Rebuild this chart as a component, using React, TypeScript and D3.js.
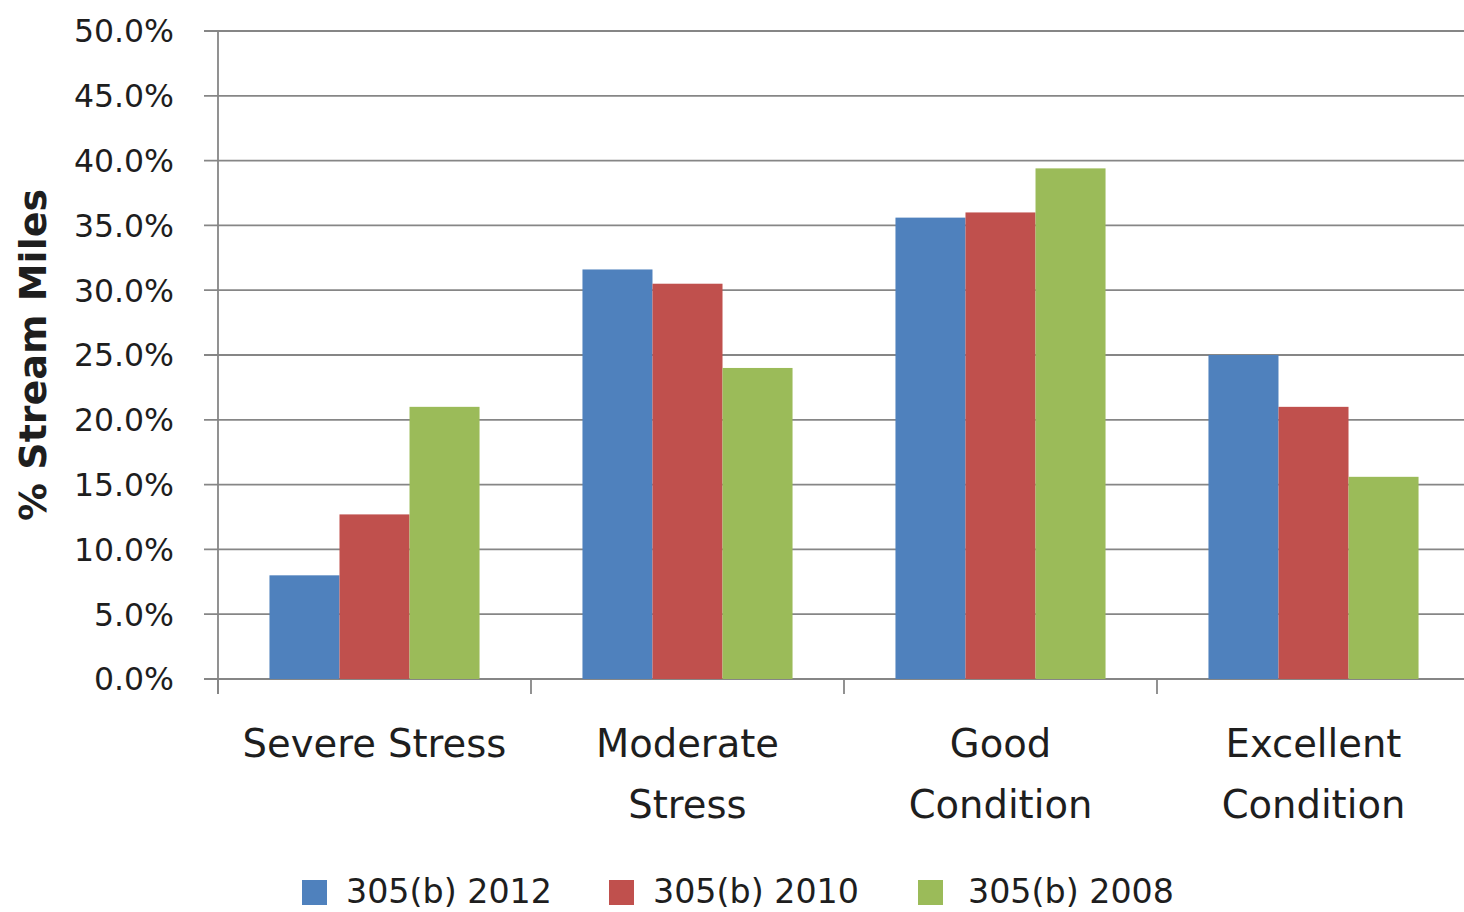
import React from "react";
import * as d3 from "d3";

const categories: string[][] = [["Severe Stress"], ["Moderate", "Stress"], ["Good", "Condition"], ["Excellent", "Condition"]];
const seriesNames = ["305(b) 2012", "305(b) 2010", "305(b) 2008"];
const colors = ["#4F81BD", "#C0504D", "#9BBB59"];
const values2012 = [8.0, 31.6, 35.6, 25.0];
const values2010 = [12.7, 30.5, 36.0, 21.0];
const values2008 = [21.0, 24.0, 39.4, 15.6];
const yTicks = [0, 5, 10, 15, 20, 25, 30, 35, 40, 45, 50];

const W = 1464;
const H = 912;
const left = 218;
const right = 1470;
const top = 31;
const bottom = 679;
const font = "'DejaVu Sans', sans-serif";
const textColor = "#1e1e1e";
const gridColor = "#868686";

export default function App() {
  const series = [values2012, values2010, values2008];
  const x0 = d3.scaleBand<number>().domain(d3.range(categories.length)).range([left, right]).paddingInner(0).paddingOuter(0);
  const x1 = d3.scaleBand<number>().domain(d3.range(series.length)).range([0, x0.bandwidth()]).paddingOuter(0.735).paddingInner(0);
  const y = d3.scaleLinear().domain([0, 50]).range([bottom, top]);

  return (
    <svg width={W} height={H} style={{ position: "absolute", left: 0, top: 0, background: "#fff" }}>
      {yTicks.map((t) => (
        <g key={t}>
          <line x1={204} x2={W} y1={y(t)} y2={y(t)} stroke={gridColor} strokeWidth={1.8} />
          <text x={174} y={y(t)} dy="0.36em" textAnchor="end" fontFamily={font} fontSize={31.5} fill={textColor}>
            {t.toFixed(1) + "%"}
          </text>
        </g>
      ))}
      {categories.map((c, ci) =>
        series.map((s, si) => (
          <rect
            key={ci + "-" + si}
            x={(x0(ci) as number) + (x1(si) as number)}
            y={y(s[ci])}
            width={x1.bandwidth()}
            height={bottom - y(s[ci])}
            fill={colors[si]}
          />
        ))
      )}
      <line x1={left} x2={left} y1={top} y2={694} stroke={gridColor} strokeWidth={1.8} />
      {d3.range(categories.length + 1).map((i) => {
        const xx = left + i * x0.step();
        return <line key={i} x1={xx} x2={xx} y1={bottom} y2={694} stroke={gridColor} strokeWidth={1.8} />;
      })}
      {categories.map((c, ci) => (
        <text
          key={ci}
          x={(x0(ci) as number) + x0.bandwidth() / 2}
          y={757}
          textAnchor="middle"
          fontFamily={font}
          fontSize={38.5}
          fill={textColor}
        >
          {c.map((line, li) => (
            <tspan key={li} x={(x0(ci) as number) + x0.bandwidth() / 2} dy={li === 0 ? 0 : 61}>
              {line}
            </tspan>
          ))}
        </text>
      ))}
      <text
        transform={`translate(46, 355) rotate(-90)`}
        textAnchor="middle"
        fontFamily={font}
        fontWeight="bold"
        fontSize={38}
        fill={textColor}
      >
        % Stream Miles
      </text>
      {seriesNames.map((n, i) => {
        const lx = [302, 609, 918][i];
        const gap = [44, 44, 50][i];
        return (
          <g key={n}>
            <rect x={lx} y={880} width={25} height={25} fill={colors[i]} />
            <text x={lx + gap} y={903} fontFamily={font} fontSize={33.3} fill={textColor}>
              {n}
            </text>
          </g>
        );
      })}
    </svg>
  );
}
